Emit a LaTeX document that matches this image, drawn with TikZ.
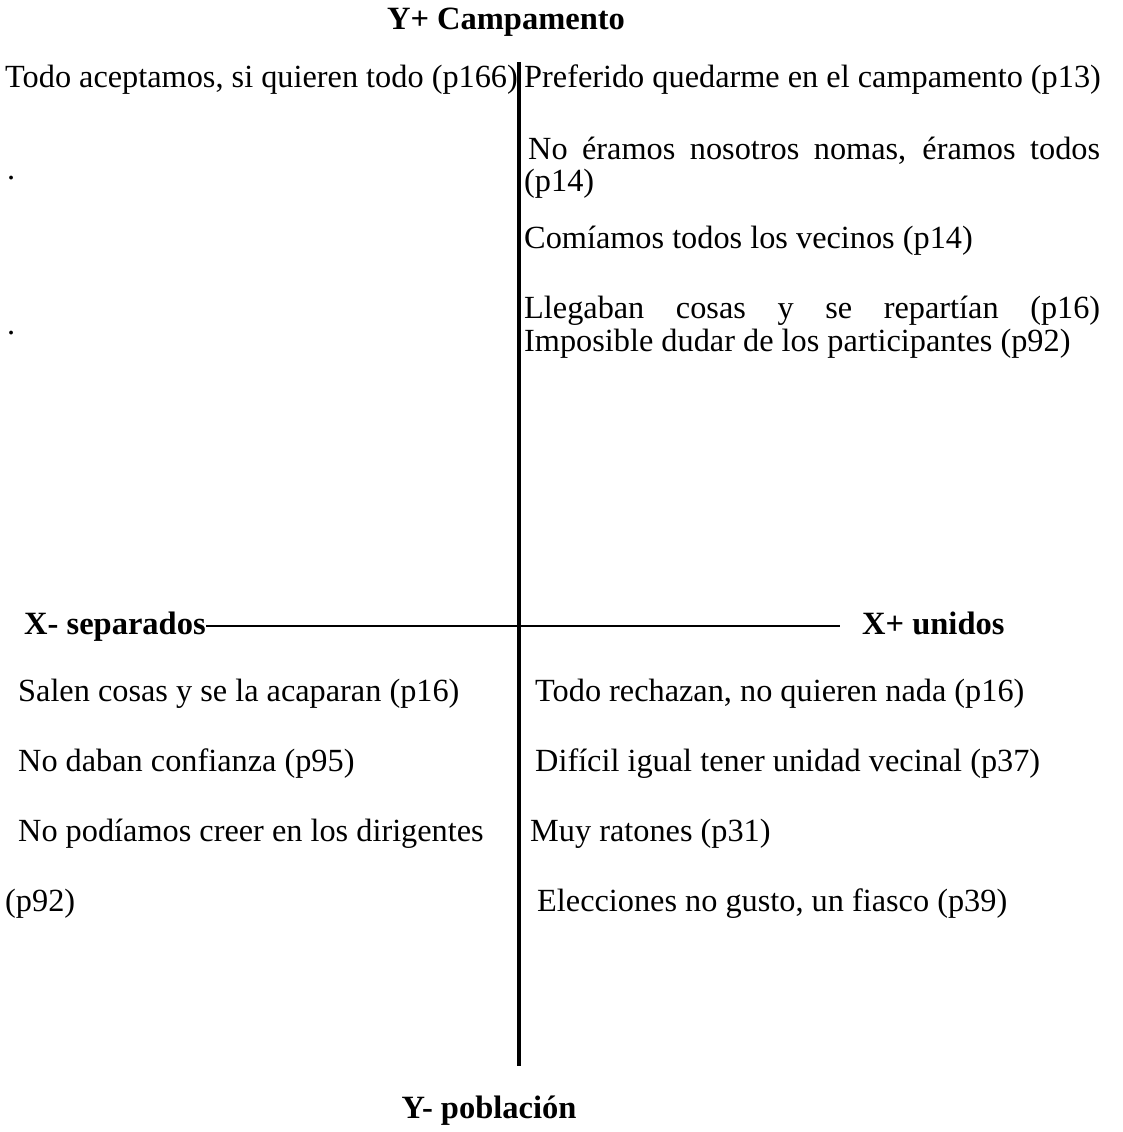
\documentclass[tikz,border=0pt]{standalone}
\usepackage{fontspec}
\setmainfont{Liberation Serif}
\begin{document}
\begin{tikzpicture}[x=1pt,y=-1pt,
  txt/.style={anchor=base west,inner sep=0pt,font=\fontsize{32.3}{38}\selectfont},
  lbl/.style={anchor=base west,inner sep=0pt,font=\fontsize{32.5}{38}\selectfont\bfseries},
  axis/.style={line width=3.4pt,black}]
\useasboundingbox[fill=white] (0,0) rectangle (1122,1132);
% titles
\node[lbl,anchor=base] (ytop) at (506,30) {Y+ Campamento};
\node[lbl,anchor=base] (ybot) at (489,1118) {Y- población};
\node[lbl] (xneg) at (24,634) {X- separados};
\node[lbl] (xpos) at (862,634) {X+ unidos};
% axes
\coordinate (vt) at (519,62);
\coordinate (vb) at (519,1066);
\coordinate (hr) at (840,626);
\draw[axis] (vt) -- (vb);
\draw[axis,line width=2.6pt] (xneg.east |- hr) -- (hr);
% upper left
\node[txt] (ul1) at (5,88) {Todo aceptamos, si quieren todo (p166)};
\node[txt] (ul2) at (7,179) {.};
\node[txt] (ul3) at (7,334) {.};
% upper right
\node[txt] (ur1) at (524,88) {Preferido quedarme en el campamento (p13)};
\node[txt] (ur2) at (528,159) {\makebox[572pt][s]{No éramos nosotros nomas, éramos todos}};
\node[txt] (ur3) at (524,191) {(p14)};
\node[txt] (ur4) at (524,248) {Comíamos todos los vecinos (p14)};
\node[txt] (ur5) at (524,318) {\makebox[576pt][s]{Llegaban cosas y se repartían (p16)}};
\node[txt] (ur6) at (524,351) {Imposible dudar de los participantes (p92)};
% lower left
\node[txt] (ll1) at (18,701) {Salen cosas y se la acaparan (p16)};
\node[txt] (ll2) at (18,771) {No daban confianza (p95)};
\node[txt] (ll3) at (18,841) {No podíamos creer en los dirigentes};
\node[txt] (ll4) at (5,911) {(p92)};
% lower right
\node[txt] (lr1) at (535,701) {Todo rechazan, no quieren nada (p16)};
\node[txt] (lr2) at (535,771) {Difícil igual tener unidad vecinal (p37)};
\node[txt] (lr3) at (530,841) {Muy ratones (p31)};
\node[txt] (lr4) at (537,911) {Elecciones no gusto, un fiasco (p39)};
\end{tikzpicture}
\end{document}
